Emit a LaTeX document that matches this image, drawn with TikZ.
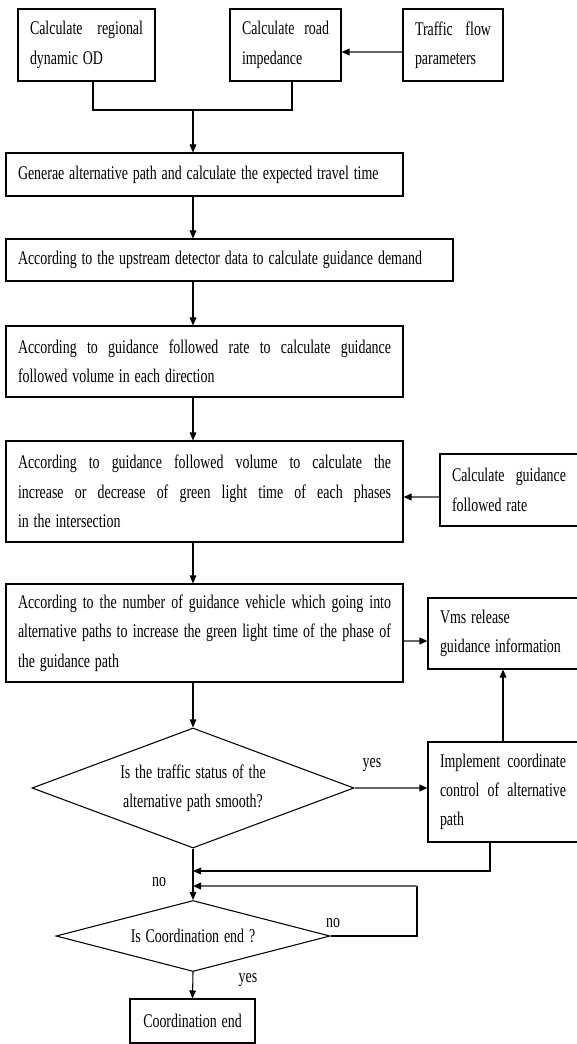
\documentclass[tikz,border=0pt]{standalone}
\usepackage{fontspec}
\setmainfont{Liberation Serif}[FakeStretch=0.72,WordSpace=1.4]
\usetikzlibrary{arrows.meta}
\usetikzlibrary{shapes.geometric}
\hyphenpenalty=10000

\begin{document}
\begin{tikzpicture}[x=0.75pt,y=0.75pt,yscale=-1,xscale=1,
  font={\fontsize{14.5pt}{22pt}\selectfont},
  flowbox/.style={draw, line width=0.8pt, inner xsep=9pt, inner ysep=0pt, align=justify},
  onebox/.style={draw, line width=0.8pt, inner xsep=9pt, inner ysep=0pt, align=flush left},
  decision/.style={draw, diamond, line width=0.8pt, inner sep=0pt, align=flush center},
  lbl/.style={inner sep=0.75pt},
  arr/.style={line width=0.8pt, -{Triangle[length=6pt,width=5pt]}},
  grayarr/.style={line width=1.2pt, black!60, -{Triangle[length=6pt,width=5pt,color=black]}}]
\useasboundingbox (0,0) rectangle (576,1044);

%Shape: Rectangle [calcOD]
\node[flowbox, text width=84.75pt, minimum height=54pt] (calcOD) at (86.5,45) {Calculate regional\linebreak dynamic OD};
%Shape: Rectangle [impedance]
\node[flowbox, text width=65.25pt, minimum height=54pt] (impedance) at (285.5,45) {Calculate road\linebreak impedance};
%Shape: Rectangle [traffic]
\node[flowbox, text width=57pt, minimum height=54pt] (traffic) at (453,45) {Traffic flow\linebreak parameters};
%Shape: Rectangle [altpath]
\node[onebox, text width=279.75pt, minimum height=32.25pt] (altpath) at (204.5,174.5) {Generae alternative path and calculate the expected travel time};
%Shape: Rectangle [demand]
\node[onebox, text width=317.25pt, minimum height=31.5pt] (demand) at (229.5,260) {According to the upstream detector data to calculate guidance demand};
%Shape: Rectangle [volume]
\node[flowbox, text width=279.75pt, minimum height=53.25pt] (volume) at (204.5,361.5) {According to guidance followed rate to calculate guidance\linebreak followed volume in each direction};
%Shape: Rectangle [greentime]
\node[flowbox, text width=279.75pt, minimum height=75.75pt] (greentime) at (204.5,491.5) {According to guidance followed volume to calculate the\linebreak increase or decrease of green light time of each phases\linebreak in the intersection};
%Shape: Rectangle [rate]
\node[flowbox, text width=85.5pt, minimum height=54pt] (rate) at (509,490) {Calculate guidance\linebreak followed rate};
%Shape: Rectangle [phasepath]
\node[flowbox, text width=279.75pt, minimum height=73.5pt] (phasepath) at (204.5,633) {According to the number of guidance vehicle which going into\linebreak alternative paths to increase the green light time of the phase of\linebreak the guidance path};
%Shape: Rectangle [vms]
\node[onebox, text width=94.5pt, minimum height=53.25pt] (vms) at (503,633.5) {Vms release\\guidance information};
%Shape: Rectangle [coordctl]
\node[flowbox, text width=94.5pt, minimum height=75pt] (coordctl) at (503,792) {Implement coordinate\linebreak control of alternative\linebreak path};
%Shape: Diamond [smooth]
\node[decision, shape aspect=2.68, minimum width=241.5pt, minimum height=90pt] (smooth) at (193,788) {Is the traffic status of the\\alternative path smooth?};
%Shape: Diamond [finish]
\node[decision, shape aspect=3.86, minimum width=205.5pt, minimum height=53.25pt] (finish) at (193,936) {Is Coordination end ?};
%Shape: Rectangle [endbox]
\node[draw, line width=0.8pt, minimum width=93.75pt, minimum height=33pt] (endbox) at (192.5,1021) {Coordination end};

% helper coordinates
\coordinate (join) at (193,110);
\coordinate (colOD) at (93,0);
\coordinate (colRI) at (292,0);
\coordinate (colCtl) at (490,0);
\coordinate (loopR) at (417,0);
\coordinate (rowTF) at (0,52);
\coordinate (rowRate) at (0,497);
\coordinate (rowVms) at (0,641);
\coordinate (mergeA) at (193,871);
\coordinate (mergeB) at (193,886);

%Straight Lines
\draw[grayarr] (traffic.west |- rowTF) -- (impedance.east |- rowTF);
\draw[line width=0.8pt] (calcOD.south -| colOD) |- (join) -| (impedance.south -| colRI);
\draw[arr] (join) -- (join |- altpath.north);
\draw[arr] (altpath.south -| join) -- (demand.north -| join);
\draw[arr] (demand.south -| join) -- (volume.north -| join);
\draw[arr] (volume.south -| join) -- (greentime.north -| join);
\draw[arr] (greentime.south -| join) -- (phasepath.north -| join);
\draw[grayarr] (rate.west |- rowRate) -- (greentime.east |- rowRate);
\draw[grayarr] (phasepath.east |- rowVms) -- (vms.west |- rowVms);
\draw[arr] (phasepath.south -| join) -- (smooth.north);
\draw[grayarr] (smooth.east) -- (smooth.east -| coordctl.west);
\draw[arr] (coordctl.north) -- (vms.south);
\draw[arr] (coordctl.south -| colCtl) |- (mergeA);
\draw[arr] (smooth.south) -- (finish.north);
\draw[line width=0.8pt] (finish.east) -| (loopR |- mergeB);
\draw[grayarr] (loopR |- mergeB) -- (mergeB);
\draw[arr] (finish.south) -- (endbox.north);

% Text Node
\node[lbl] (yesA) at (372,765) {yes};
% Text Node
\node[lbl] (noA) at (159,882) {no};
% Text Node
\node[lbl] (noB) at (333,923) {no};
% Text Node
\node[lbl] (yesB) at (248,980) {yes};

\end{tikzpicture}
\end{document}
